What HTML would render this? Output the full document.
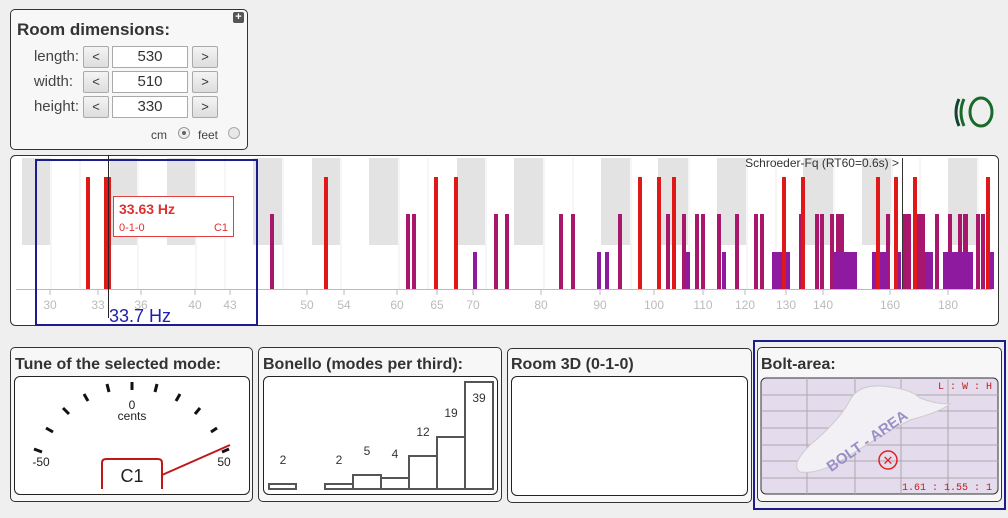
<!DOCTYPE html>
<html><head><meta charset="utf-8"><style>
body{margin:0;width:1008px;height:518px;background:#efefef;font-family:"Liberation Sans",sans-serif;position:relative;overflow:hidden;color:#333}
.abs{position:absolute}
.panel{position:absolute;border:1px solid #333;border-radius:5px;background:#f7f7f7}
.btn{position:absolute;width:24px;height:20px;border:1px solid #aaa;background:linear-gradient(#f4f4f4,#ddd);border-radius:2px;font-size:13px;text-align:center;line-height:20px;color:#333}
.inp{position:absolute;width:74px;height:20px;border:1px solid #aaa;background:#fff;font-size:15px;text-align:center;line-height:20px}
.lbl{position:absolute;font-size:15px;color:#444;text-align:right;width:70px}
h3{position:absolute;margin:0;font-size:16px;font-weight:bold;color:#333}
.inner{position:absolute;border:1px solid #222;border-radius:6px;background:#fff}
</style></head><body>

<div class="panel" style="left:10px;top:9px;width:236px;height:139px;"></div>
<div class="abs" style="left:233px;top:12px;width:11px;height:11px;background:#555;border-radius:2px;color:#fff;font-size:11px;line-height:11px;text-align:center;font-weight:bold">+</div>
<h3 style="left:17px;top:20px;font-size:17px">Room dimensions:</h3>
<div class="lbl" style="left:9px;top:48px">length:</div>
<div class="lbl" style="left:3px;top:73px">width:</div>
<div class="lbl" style="left:9px;top:98px">height:</div>
<div class="btn" style="left:83px;top:46px">&lt;</div><div class="inp" style="left:112px;top:46px">530</div><div class="btn" style="left:192px;top:46px">&gt;</div>
<div class="btn" style="left:83px;top:71px">&lt;</div><div class="inp" style="left:112px;top:71px">510</div><div class="btn" style="left:192px;top:71px">&gt;</div>
<div class="btn" style="left:83px;top:96px">&lt;</div><div class="inp" style="left:112px;top:96px">330</div><div class="btn" style="left:192px;top:96px">&gt;</div>
<div class="abs" style="left:151px;top:128px;font-size:12px;color:#444">cm</div>
<div class="abs" style="left:178px;top:127px;width:10px;height:10px;border:1px solid #999;border-radius:50%;background:#eee"><div style="margin:3px;width:4px;height:4px;border-radius:50%;background:#666"></div></div>
<div class="abs" style="left:198px;top:128px;font-size:12px;color:#444">feet</div>
<div class="abs" style="left:228px;top:127px;width:10px;height:10px;border:1px solid #aaa;border-radius:50%;background:#e8e8e8"></div>

<svg class="abs" style="left:950px;top:95px" width="48" height="36"><path d="M9 4 Q3 17 9 31" stroke="#143" stroke-width="3" fill="none"/><path d="M14 4 Q8 17 14 31" stroke="#1a6a2a" stroke-width="3" fill="none"/><ellipse cx="31" cy="17" rx="11" ry="14" stroke="#1a6a2a" stroke-width="3" fill="none"/></svg>

<svg class="abs" style="left:0;top:0" width="1008" height="518">
<rect x="10.5" y="155.5" width="988" height="170" rx="5" fill="#fff" stroke="#333"/>
<g fill="#e3e3e3">
<rect x="22" y="158" width="28" height="87"/><rect x="110" y="158" width="27" height="87"/><rect x="167" y="158" width="28" height="87"/><rect x="253" y="158" width="29" height="87"/><rect x="312" y="158" width="28" height="87"/><rect x="369" y="158" width="29" height="87"/><rect x="457" y="158" width="28" height="87"/><rect x="514" y="158" width="29" height="87"/><rect x="601" y="158" width="29" height="87"/><rect x="658" y="158" width="30" height="87"/><rect x="717" y="158" width="29" height="87"/><rect x="803" y="158" width="30" height="87"/><rect x="862" y="158" width="29" height="87"/><rect x="948" y="158" width="29" height="87"/>
</g>
<g stroke="#ececec"><path d="M51 158V289M80 158V289M138 158V289M196 158V289M225 158V289M283 158V289M341 158V289M399 158V289M428 158V289M486 158V289M544 158V289M573 158V289M631 158V289M689 158V289M747 158V289M776 158V289M834 158V289M892 158V289M920 158V289M978 158V289"/></g>
<line x1="16" y1="289.5" x2="992" y2="289.5" stroke="#bbb"/>
<g stroke="#bbb"><path d="M50 289v6M98 289v6M141 289v6M195 289v6M230 289v6M307 289v6M344 289v6M397 289v6M437 289v6M473 289v6M541 289v6M600 289v6M654 289v6M703 289v6M745 289v6M786 289v6M823 289v6M890 289v6M948 289v6"/></g>
<g fill="#bbb" font-size="12" text-anchor="middle">
<text x="50" y="309">30</text><text x="98" y="309">33</text><text x="141" y="309">36</text><text x="195" y="309">40</text><text x="230" y="309">43</text><text x="307" y="309">50</text><text x="344" y="309">54</text><text x="397" y="309">60</text><text x="437" y="309">65</text><text x="473" y="309">70</text><text x="541" y="309">80</text><text x="600" y="309">90</text><text x="654" y="309">100</text><text x="703" y="309">110</text><text x="745" y="309">120</text><text x="786" y="309">130</text><text x="823" y="309">140</text><text x="890" y="309">160</text><text x="948" y="309">180</text>
</g>
<g fill="#a8176c">
<rect x="270" y="214" width="4" height="75"/><rect x="406" y="214" width="4" height="75"/><rect x="412" y="214" width="4" height="75"/><rect x="494" y="214" width="4" height="75"/><rect x="505" y="214" width="4" height="75"/><rect x="559" y="214" width="4" height="75"/><rect x="571" y="214" width="4" height="75"/><rect x="618" y="214" width="4" height="75"/><rect x="666" y="214" width="4" height="75"/><rect x="682" y="214" width="4" height="75"/><rect x="695" y="214" width="4" height="75"/><rect x="701" y="214" width="4" height="75"/><rect x="717" y="214" width="4" height="75"/><rect x="735" y="214" width="4" height="75"/><rect x="754" y="214" width="4" height="75"/><rect x="760" y="214" width="4" height="75"/><rect x="799" y="214" width="4" height="75"/><rect x="815" y="214" width="4" height="75"/><rect x="820" y="214" width="4" height="75"/><rect x="830" y="214" width="4" height="75"/><rect x="836" y="214" width="8" height="75"/><rect x="886" y="214" width="4" height="75"/><rect x="902" y="214" width="9" height="75"/><rect x="915" y="214" width="10" height="75"/><rect x="935" y="214" width="4" height="75"/><rect x="948" y="214" width="4" height="75"/><rect x="958" y="214" width="4" height="75"/><rect x="963" y="214" width="5" height="75"/><rect x="976" y="214" width="4" height="75"/><rect x="981" y="214" width="4" height="75"/>
</g>
<g fill="#8e1aa0">
<rect x="473" y="252" width="4" height="37"/><rect x="597" y="252" width="4" height="37"/><rect x="605" y="252" width="4" height="37"/><rect x="686" y="252" width="4" height="37"/><rect x="722" y="252" width="4" height="37"/><rect x="772" y="252" width="18" height="37"/><rect x="833" y="252" width="24" height="37"/><rect x="872" y="252" width="15" height="37"/><rect x="897" y="252" width="4" height="37"/><rect x="925" y="252" width="8" height="37"/><rect x="943" y="252" width="30" height="37"/><rect x="988" y="252" width="6" height="37"/>
</g>
<g fill="#e01818">
<rect x="86" y="177" width="4" height="112"/><rect x="104" y="177" width="7" height="112"/><rect x="324" y="177" width="4" height="112"/><rect x="434" y="177" width="4" height="112"/><rect x="454" y="177" width="4" height="112"/><rect x="638" y="177" width="4" height="112"/><rect x="657" y="177" width="4" height="112"/><rect x="672" y="177" width="4" height="112"/><rect x="782" y="177" width="4" height="112"/><rect x="801" y="177" width="4" height="112"/><rect x="876" y="177" width="4" height="112"/><rect x="894" y="177" width="4" height="112"/><rect x="913" y="177" width="4" height="112"/><rect x="986" y="177" width="4" height="112"/>
</g>
<line x1="902.5" y1="158" x2="902.5" y2="289" stroke="#333"/>
<text x="899" y="167" font-size="12" fill="#333" text-anchor="end">Schroeder-Fq (RT60=0.6s) &gt;</text>
<rect x="36" y="160" width="221" height="165" fill="none" stroke="#1c1c8c" stroke-width="2"/>
<line x1="108.5" y1="155" x2="108.5" y2="318" stroke="#222"/>
<text x="109" y="322" font-size="18" fill="#2020b0">33.7 Hz</text>
<rect x="113.5" y="196.5" width="120" height="40" fill="#fff" stroke="#e04040"/>
<text x="119" y="214" font-size="14" font-weight="bold" fill="#e03030">33.63 Hz</text>
<text x="119" y="231" font-size="11" fill="#e03030">0-1-0</text>
<text x="228" y="231" font-size="11" fill="#e03030" text-anchor="end">C1</text>
</svg>

<div class="panel" style="left:10px;top:347px;width:241px;height:153px;"></div>
<h3 style="left:15px;top:356px">Tune of the selected mode:</h3>
<div class="inner" style="left:14px;top:376px;width:234px;height:117px;"></div>
<div class="panel" style="left:258px;top:347px;width:242px;height:153px;"></div>
<h3 style="left:263px;top:356px">Bonello (modes per third):</h3>
<div class="inner" style="left:263px;top:376px;width:233px;height:117px;"></div>
<div class="panel" style="left:507px;top:348px;width:243px;height:153px;"></div>
<h3 style="left:511px;top:356px">Room 3D (0-1-0)</h3>
<div class="inner" style="left:511px;top:376px;width:235px;height:118px;"></div>
<div class="abs" style="left:753px;top:340px;width:249px;height:166px;border:2px solid #1c1c8c"></div>
<div class="panel" style="left:757px;top:347px;width:243px;height:153px;"></div>
<h3 style="left:761px;top:356px">Bolt-area:</h3>

<svg class="abs" style="left:0;top:0" width="1008" height="518">
<g stroke="#111" stroke-width="3">
<line x1="34" y1="449" x2="42" y2="452"/><line x1="46" y1="428" x2="53" y2="432"/><line x1="63" y1="408" x2="69" y2="414"/><line x1="84" y1="394" x2="88" y2="401"/><line x1="107" y1="384" x2="109" y2="392"/><line x1="132" y1="382" x2="132" y2="390"/><line x1="157" y1="384" x2="155" y2="392"/><line x1="180" y1="394" x2="176" y2="401"/><line x1="200" y1="408" x2="195" y2="414"/><line x1="217" y1="428" x2="211" y2="432"/><line x1="229" y1="449" x2="222" y2="452"/>
</g>
<text x="132" y="409" font-size="12" text-anchor="middle" fill="#222">0</text>
<text x="132" y="420" font-size="12" text-anchor="middle" fill="#222">cents</text>
<text x="41" y="466" font-size="12" text-anchor="middle" fill="#222">-50</text>
<text x="224" y="466" font-size="12" text-anchor="middle" fill="#222">50</text>
<line x1="162" y1="475" x2="230" y2="445" stroke="#c01818" stroke-width="2"/>
<path d="M102 489V463Q102 459 106 459H158Q162 459 162 463V489" stroke="#c01818" stroke-width="2" fill="#fff"/>
<text x="132" y="482" font-size="18" text-anchor="middle" fill="#222">C1</text>
<g stroke="#555" stroke-width="2" fill="#fff">
<rect x="269" y="484" width="27" height="5"/><rect x="325" y="484" width="28" height="5"/><rect x="353" y="475" width="28" height="14"/><rect x="381" y="478" width="28" height="11"/><rect x="409" y="456" width="28" height="33"/><rect x="437" y="437" width="28" height="52"/><rect x="465" y="382" width="28" height="107"/>
</g>
<g font-size="12" fill="#333" text-anchor="middle">
<text x="283" y="464">2</text><text x="339" y="464">2</text><text x="367" y="455">5</text><text x="395" y="458">4</text><text x="423" y="436">12</text><text x="451" y="417">19</text><text x="479" y="402">39</text>
</g>
<rect x="761" y="378" width="237" height="116" rx="5" fill="#e4dbec" stroke="#333"/>
<g stroke="#aaa" stroke-width="1">
<path d="M761 395H998M761 411H998M761 428H998M761 445H998M761 461H998M761 478H998M807 378V494M855 378V494M901 378V494M948 378V494"/>
</g>
<path d="M800 472Q790 465 810 445Q840 420 850 400Q858 385 880 386Q910 388 920 398Q935 404 950 404Q940 412 910 420Q880 436 850 455Q820 475 800 472Z" fill="#f2f0f4" stroke="#ccc"/>
<text x="870" y="445" font-size="15" font-weight="bold" fill="#9a90c8" transform="rotate(-35 870 445)" text-anchor="middle">BOLT - AREA</text>
<circle cx="888" cy="460" r="9" fill="none" stroke="#e02020" stroke-width="1.5"/>
<text x="888" y="465" font-size="13" fill="#e02020" text-anchor="middle">✕</text>
<text x="992" y="389" font-size="10" fill="#c02020" text-anchor="end" font-family="Liberation Mono">L : W : H</text>
<text x="992" y="490" font-size="10" fill="#c02020" text-anchor="end" font-family="Liberation Mono">1.61 : 1.55 : 1</text>
</svg>
</body></html>
